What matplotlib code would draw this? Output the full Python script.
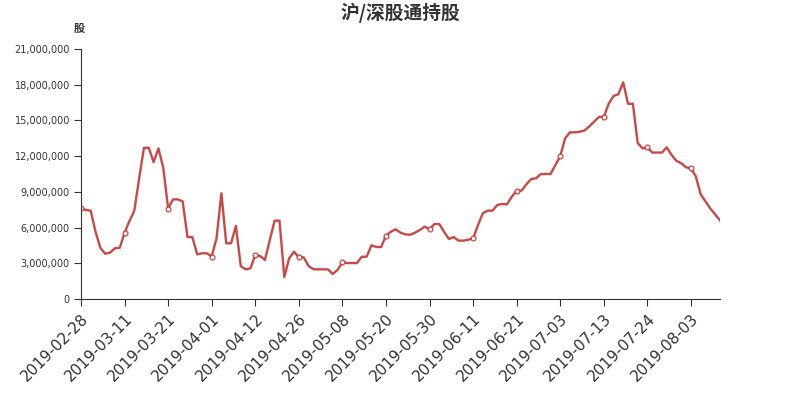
import numpy as np
import matplotlib.pyplot as plt
from matplotlib.ticker import FuncFormatter

plt.rcParams['font.family'] = ['DejaVu Sans', 'Noto Sans CJK SC']

# holdings in millions of shares, one value per category
holdings_m = [
    7.65, 7.48, 7.42, 5.65, 4.3, 3.8, 3.9, 4.26, 4.3, 5.55,
    6.55, 7.4, 10.1, 12.7, 12.7, 11.5, 12.65, 11.0, 7.6, 8.37,
    8.37, 8.2, 5.2, 5.2, 3.75, 3.84, 3.84, 3.57, 5.1, 8.88,
    4.68, 4.68, 6.13, 2.77, 2.49, 2.58, 3.7, 3.61, 3.28, 4.96,
    6.58, 6.58, 1.85, 3.42, 3.97, 3.5, 3.5, 2.77, 2.5, 2.49,
    2.49, 2.49, 2.1, 2.44, 3.08, 3.02, 3.02, 3.02, 3.55, 3.55,
    4.51, 4.37, 4.37, 5.32, 5.65, 5.85, 5.57, 5.43, 5.4, 5.57,
    5.8, 6.08, 5.85, 6.3, 6.3, 5.65, 5.04, 5.2, 4.9, 4.9,
    4.98, 5.1, 6.2, 7.2, 7.42, 7.42, 7.9, 7.98, 7.95, 8.6,
    9.1, 9.1, 9.63, 10.08, 10.14, 10.5, 10.5, 10.5, 11.26, 12.0,
    13.5, 14.0, 14.0, 14.05, 14.15, 14.5, 14.9, 15.3, 15.3, 16.4,
    17.05, 17.2, 18.2, 16.4, 16.4, 13.1, 12.65, 12.74, 12.3, 12.3,
    12.3, 12.74, 12.1, 11.6, 11.4, 11.06, 10.98, 10.3, 8.8, 8.2,
    7.6, 7.1, 6.6,
]

# labels shown on the category axis, every 9th category
date_labels = [
    "2019-02-28", "2019-03-11", "2019-03-21", "2019-04-01", "2019-04-12",
    "2019-04-26", "2019-05-08", "2019-05-20", "2019-05-30", "2019-06-11",
    "2019-06-21", "2019-07-03", "2019-07-13", "2019-07-24", "2019-08-03",
]
label_step = 9

y_ticks = [0, 3000000, 6000000, 9000000, 12000000, 15000000, 18000000, 21000000]

values = np.array(holdings_m) * 1e6
x = np.arange(len(values))

red = "#c23531"
dark = "#333333"

fig = plt.figure(figsize=(8, 4), dpi=100)
ax = fig.add_axes([81 / 800, 1 - 299 / 400, 639 / 800, 250 / 400])

ax.plot(x, values, color=red, linewidth=1.7, alpha=0.9, marker="o",
        markersize=3.5, markerfacecolor="white", markeredgecolor=red,
        markeredgewidth=0.9, markevery=label_step)

ax.set_xlim(0, len(values) - 1)
ax.set_ylim(0, 21000000)
ax.set_yticks(y_ticks)
ax.yaxis.set_major_formatter(FuncFormatter(lambda v, p: f"{int(v):,}"))
ax.set_xticks(x[::label_step][:len(date_labels)])
ax.set_xticklabels(date_labels, rotation=45, ha="right",
                   rotation_mode="anchor", fontsize=11, color=dark)

for side in ["top", "right"]:
    ax.spines[side].set_visible(False)
for side in ["left", "bottom"]:
    ax.spines[side].set_color(dark)
ax.tick_params(axis="y", labelsize=7, colors=dark, length=5, pad=3)
ax.tick_params(axis="x", colors=dark, length=5, pad=4)

fig.text(0.5, 1 - 13 / 400, "沪/深股通持股", ha="center", va="center",
         fontsize=13.5, fontweight="bold", color=dark,
         family=["Noto Sans CJK SC", "DejaVu Sans"])
fig.text(79 / 800, 1 - 28 / 400, "股", ha="center", va="center",
         fontsize=8, fontweight="bold", color=dark,
         family=["Noto Sans CJK SC", "DejaVu Sans"])

fig.savefig("out.png", dpi=100)
